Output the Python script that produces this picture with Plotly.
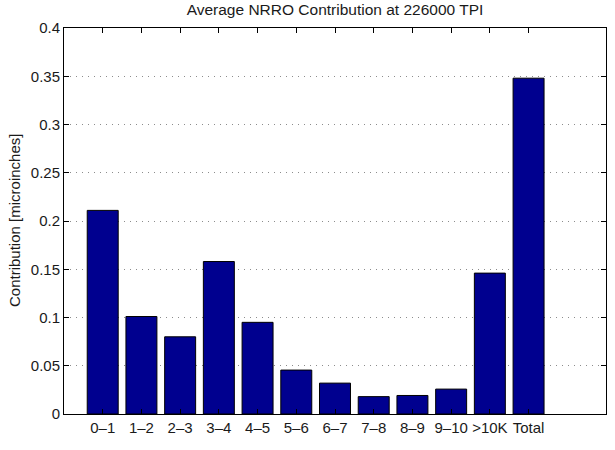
import plotly.graph_objects as go

categories = ["0–1", "1–2", "2–3", "3–4", "4–5", "5–6", "6–7", "7–8", "8–9", "9–10", ">10K", "Total"]
contribution = [0.211, 0.101, 0.080, 0.158, 0.095, 0.0455, 0.032, 0.018, 0.0192, 0.0258, 0.146, 0.348]
y_ticks = [0, 0.05, 0.1, 0.15, 0.2, 0.25, 0.3, 0.35, 0.4]
y_tick_labels = ["0", "0.05", "0.1", "0.15", "0.2", "0.25", "0.3", "0.35", "0.4"]

FONT = "Liberation Sans, Arial, Helvetica, sans-serif"
TXT = "#1a1a1a"

fig = go.Figure(
    go.Bar(
        x=categories,
        y=contribution,
        marker=dict(color="rgb(0,0,143)", line=dict(color="black", width=1)),
        hoverinfo="skip",
    )
)

fig.update_layout(
    width=615,
    height=450,
    margin=dict(l=64, r=9, t=28, b=36, autoexpand=False),
    plot_bgcolor="white",
    paper_bgcolor="white",
    bargap=0.2,
    showlegend=False,
    font=dict(family=FONT, size=15, color=TXT),
    title=dict(
        text="Average NRRO Contribution at 226000 TPI",
        x=0.5, xref="paper", xanchor="center",
        y=1 - 10 / 450, yref="container", yanchor="middle",
        font=dict(family=FONT, size=15.5, color=TXT),
    ),
    annotations=[
        dict(
            text="Contribution [microinches]",
            xref="paper", yref="paper",
            x=(14 - 64) / 542, y=0.5,
            xanchor="center", yanchor="middle",
            textangle=-90, showarrow=False,
            font=dict(family=FONT, size=15, color=TXT),
        )
    ],
)

fig.update_xaxes(
    type="category",
    range=[-1, 13],
    automargin=False,
    showgrid=False,
    showline=True, linecolor="black", linewidth=1,
    mirror="ticks",
    ticks="inside", ticklen=5, tickcolor="black", tickwidth=1,
    tickfont=dict(family=FONT, size=15, color=TXT),
    zeroline=False,
)

fig.update_yaxes(
    range=[0, 0.4],
    automargin=False,
    tickvals=y_ticks,
    ticktext=y_tick_labels,
    showgrid=True, gridcolor="#8c8c8c", gridwidth=1, griddash="1px,5px",
    showline=True, linecolor="black", linewidth=1,
    mirror="ticks",
    ticks="inside", ticklen=5, tickcolor="black", tickwidth=1,
    tickfont=dict(family=FONT, size=15, color=TXT),
    zeroline=False,
)

fig.write_html(
    "out.html",
    config={"displayModeBar": False, "staticPlot": True},
    post_script="document.body.style.margin='0';document.body.style.overflow='hidden';",
)
